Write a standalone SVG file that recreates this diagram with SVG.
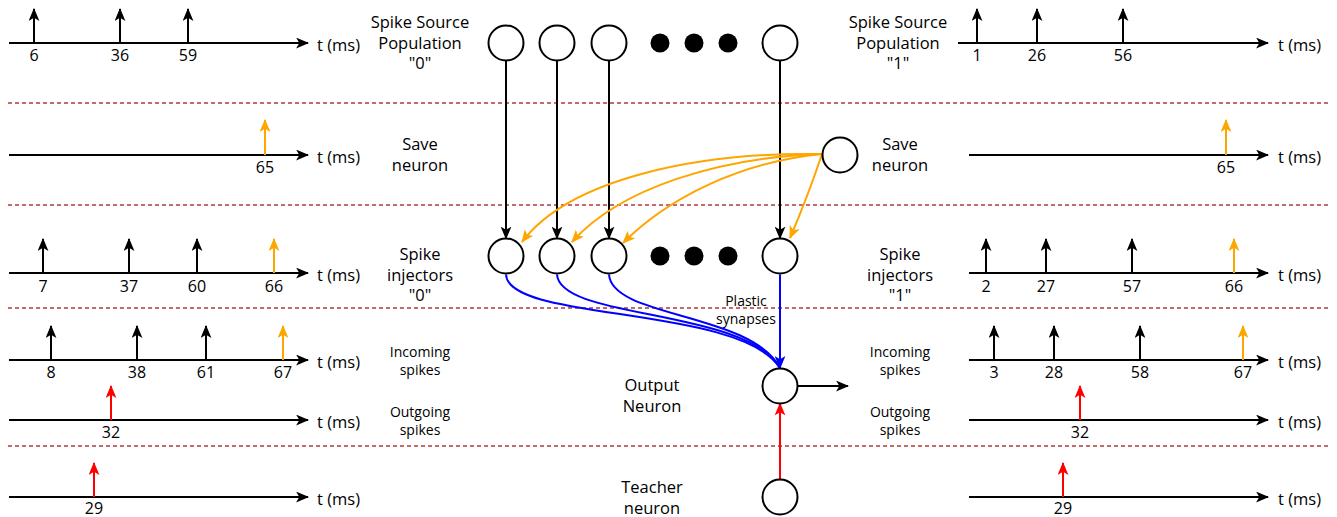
<svg xmlns="http://www.w3.org/2000/svg" width="1337" height="517" viewBox="0 0 1337 517">
<style>
text{font-family:"Open Sans","Noto Sans",sans-serif;fill:#000;text-anchor:middle}
.lbl{font-size:16.5px}
.num{font-size:16px}
.sm{font-size:14px}
.tms{font-size:16.5px;text-anchor:start}
.ax{stroke:#000;stroke-width:2;fill:none;marker-end:url(#ah)}
.sk{stroke:#000;stroke-width:2;fill:none;marker-end:url(#ah)}
.so{stroke:#FFA500;stroke-width:2;fill:none;marker-end:url(#aho)}
.sr{stroke:#FF0000;stroke-width:2;fill:none;marker-end:url(#ahr)}
.sep{stroke:#b33a3a;stroke-width:1.5;stroke-dasharray:4 3}
.nd{fill:#fff;stroke:#000;stroke-width:2}
.dot{fill:#000}
.cb{stroke:#000;stroke-width:2;fill:none;marker-end:url(#ah)}
.co{stroke:#FFA500;stroke-width:2;fill:none;marker-end:url(#aho)}
.cbl{stroke:#0000FF;stroke-width:2;fill:none}
</style>
<defs>
<marker id="ah" markerUnits="userSpaceOnUse" viewBox="0 0 12 10" refX="11" refY="5" markerWidth="13" markerHeight="11" orient="auto"><path d="M0,0 L12,5 L0,10 L3,5 Z" fill="#000"/></marker>
<marker id="aho" markerUnits="userSpaceOnUse" viewBox="0 0 12 10" refX="11" refY="5" markerWidth="13" markerHeight="11" orient="auto"><path d="M0,0 L12,5 L0,10 L3,5 Z" fill="#FFA500"/></marker>
<marker id="ahr" markerUnits="userSpaceOnUse" viewBox="0 0 12 10" refX="11" refY="5" markerWidth="13" markerHeight="11" orient="auto"><path d="M0,0 L12,5 L0,10 L3,5 Z" fill="#FF0000"/></marker>
<marker id="ahb" markerUnits="userSpaceOnUse" viewBox="0 0 12 10" refX="11" refY="5" markerWidth="13" markerHeight="11" orient="auto"><path d="M0,0 L12,5 L0,10 L3,5 Z" fill="#0000FF"/></marker>
</defs>

<g id="separators">
<line class="sep" x1="8" y1="103" x2="1328" y2="103"/>
<line class="sep" x1="8" y1="205" x2="1328" y2="205"/>
<line class="sep" x1="8" y1="308" x2="1328" y2="308"/>
<line class="sep" x1="8" y1="446" x2="1328" y2="446"/>
</g>

<g id="timelines-left">
<line class="ax" x1="9" y1="43" x2="308" y2="43"/>
<line class="sk" x1="34" y1="43" x2="34" y2="9"/>
<line class="sk" x1="120" y1="43" x2="120" y2="9"/>
<line class="sk" x1="188" y1="43" x2="188" y2="9"/>
<text class="num" x="34" y="61">6</text>
<text class="num" x="120" y="61">36</text>
<text class="num" x="188" y="61">59</text>
<text class="tms" x="317" y="51">t (ms)</text>

<line class="ax" x1="9" y1="155" x2="308" y2="155"/>
<line class="so" x1="265" y1="155" x2="265" y2="120"/>
<text class="num" x="265" y="173">65</text>
<text class="tms" x="317" y="163">t (ms)</text>

<line class="ax" x1="9" y1="273" x2="308" y2="273"/>
<line class="sk" x1="43" y1="273" x2="43" y2="239"/>
<line class="sk" x1="129" y1="273" x2="129" y2="239"/>
<line class="sk" x1="197" y1="273" x2="197" y2="239"/>
<line class="so" x1="274" y1="273" x2="274" y2="239"/>
<text class="num" x="43" y="292">7</text>
<text class="num" x="129" y="292">37</text>
<text class="num" x="197" y="292">60</text>
<text class="num" x="274" y="292">66</text>
<text class="tms" x="317" y="281">t (ms)</text>

<line class="ax" x1="9" y1="360" x2="308" y2="360"/>
<line class="sk" x1="51" y1="360" x2="51" y2="326"/>
<line class="sk" x1="137" y1="360" x2="137" y2="326"/>
<line class="sk" x1="206" y1="360" x2="206" y2="326"/>
<line class="so" x1="283" y1="360" x2="283" y2="326"/>
<text class="num" x="51" y="378">8</text>
<text class="num" x="137" y="378">38</text>
<text class="num" x="206" y="378">61</text>
<text class="num" x="283" y="378">67</text>
<text class="tms" x="317" y="368">t (ms)</text>

<line class="ax" x1="9" y1="420" x2="308" y2="420"/>
<line class="sr" x1="111" y1="420" x2="111" y2="386"/>
<text class="num" x="111" y="438">32</text>
<text class="tms" x="317" y="428">t (ms)</text>

<line class="ax" x1="9" y1="497" x2="308" y2="497"/>
<line class="sr" x1="94" y1="497" x2="94" y2="463"/>
<text class="num" x="94" y="514">29</text>
<text class="tms" x="317" y="505">t (ms)</text>
</g>

<g id="timelines-right">
<line class="ax" x1="958" y1="43" x2="1268" y2="43"/>
<line class="sk" x1="977" y1="43" x2="977" y2="9"/>
<line class="sk" x1="1037" y1="43" x2="1037" y2="9"/>
<line class="sk" x1="1123" y1="43" x2="1123" y2="9"/>
<text class="num" x="977" y="61">1</text>
<text class="num" x="1037" y="61">26</text>
<text class="num" x="1123" y="61">56</text>
<text class="tms" x="1278" y="51">t (ms)</text>

<line class="ax" x1="969" y1="155" x2="1268" y2="155"/>
<line class="so" x1="1226" y1="155" x2="1226" y2="120"/>
<text class="num" x="1226" y="173">65</text>
<text class="tms" x="1278" y="163">t (ms)</text>

<line class="ax" x1="969" y1="273" x2="1268" y2="273"/>
<line class="sk" x1="986" y1="273" x2="986" y2="239"/>
<line class="sk" x1="1046" y1="273" x2="1046" y2="239"/>
<line class="sk" x1="1132" y1="273" x2="1132" y2="239"/>
<line class="so" x1="1234" y1="273" x2="1234" y2="239"/>
<text class="num" x="986" y="292">2</text>
<text class="num" x="1046" y="292">27</text>
<text class="num" x="1132" y="292">57</text>
<text class="num" x="1234" y="292">66</text>
<text class="tms" x="1278" y="281">t (ms)</text>

<line class="ax" x1="969" y1="360" x2="1268" y2="360"/>
<line class="sk" x1="994" y1="360" x2="994" y2="326"/>
<line class="sk" x1="1054" y1="360" x2="1054" y2="326"/>
<line class="sk" x1="1140" y1="360" x2="1140" y2="326"/>
<line class="so" x1="1243" y1="360" x2="1243" y2="326"/>
<text class="num" x="994" y="378">3</text>
<text class="num" x="1054" y="378">28</text>
<text class="num" x="1140" y="378">58</text>
<text class="num" x="1243" y="378">67</text>
<text class="tms" x="1278" y="368">t (ms)</text>

<line class="ax" x1="969" y1="420" x2="1268" y2="420"/>
<line class="sr" x1="1080" y1="420" x2="1080" y2="386"/>
<text class="num" x="1080" y="438">32</text>
<text class="tms" x="1278" y="428">t (ms)</text>

<line class="ax" x1="969" y1="497" x2="1268" y2="497"/>
<line class="sr" x1="1063" y1="497" x2="1063" y2="463"/>
<text class="num" x="1063" y="514">29</text>
<text class="tms" x="1278" y="505">t (ms)</text>
</g>

<g id="labels">
<text class="lbl" x="420" y="28">Spike Source</text>
<text class="lbl" x="420" y="49">Population</text>
<text class="lbl" x="420" y="69">"0"</text>
<text class="lbl" x="898" y="28">Spike Source</text>
<text class="lbl" x="898" y="49">Population</text>
<text class="lbl" x="898" y="69">"1"</text>
<text class="lbl" x="420" y="150">Save</text>
<text class="lbl" x="420" y="171">neuron</text>
<text class="lbl" x="900" y="150">Save</text>
<text class="lbl" x="900" y="171">neuron</text>
<text class="lbl" x="420" y="260">Spike</text>
<text class="lbl" x="420" y="281">injectors</text>
<text class="lbl" x="420" y="301">"0"</text>
<text class="lbl" x="900" y="260">Spike</text>
<text class="lbl" x="900" y="281">injectors</text>
<text class="lbl" x="900" y="301">"1"</text>
<text class="sm" x="420" y="357">Incoming</text>
<text class="sm" x="420" y="375">spikes</text>
<text class="sm" x="420" y="417">Outgoing</text>
<text class="sm" x="420" y="435">spikes</text>
<text class="sm" x="900" y="357">Incoming</text>
<text class="sm" x="900" y="375">spikes</text>
<text class="sm" x="900" y="417">Outgoing</text>
<text class="sm" x="900" y="435">spikes</text>
<text class="sm" x="746" y="306">Plastic</text>
<text class="sm" x="746" y="324">synapses</text>
<text class="lbl" x="652" y="391">Output</text>
<text class="lbl" x="652" y="412">Neuron</text>
<text class="lbl" x="652" y="493">Teacher</text>
<text class="lbl" x="652" y="514">neuron</text>
</g>

<g id="connectors">
<line class="cb" x1="506" y1="60.5" x2="506" y2="238.5"/>
<line class="cb" x1="557" y1="60.5" x2="557" y2="238.5"/>
<line class="cb" x1="609" y1="60.5" x2="609" y2="238.5"/>
<line class="cb" x1="780" y1="60.5" x2="780" y2="238.5"/>
<path class="co" d="M822,154 C700,152 570,178 522,242"/>
<path class="co" d="M822,154 C720,157 620,188 572,242"/>
<path class="co" d="M822,154 C740,162 668,198 623,243"/>
<path class="co" d="M822,154 Q808,196 790,238"/>
<path class="cbl" d="M506,274.5 C508,322 740,305 780,368"/>
<path class="cbl" d="M557,274.5 C560,320 745,308 780,368"/>
<path class="cbl" d="M609,274.5 C612,318 750,312 780,368"/>
<line class="cbl" x1="780" y1="274.5" x2="780" y2="368" style="marker-end:url(#ahb)"/>
<line class="cb" x1="797.5" y1="386" x2="848" y2="386"/>
<line class="sr" x1="780" y1="479.5" x2="780" y2="403.5"/>
</g>

<g id="node-source-0"><circle class="nd" cx="506" cy="43" r="17.5"/></g>
<g id="node-source-1"><circle class="nd" cx="557" cy="43" r="17.5"/></g>
<g id="node-source-2"><circle class="nd" cx="609" cy="43" r="17.5"/></g>
<g id="node-source-dots"><circle class="dot" cx="660" cy="43" r="9.5"/><circle class="dot" cx="694" cy="43" r="9.5"/><circle class="dot" cx="728" cy="43" r="9.5"/></g>
<g id="node-source-n"><circle class="nd" cx="780" cy="43" r="17.5"/></g>
<g id="node-save"><circle class="nd" cx="840" cy="155" r="17.5"/></g>
<g id="node-inj-0"><circle class="nd" cx="506" cy="256" r="17.5"/></g>
<g id="node-inj-1"><circle class="nd" cx="557" cy="256" r="17.5"/></g>
<g id="node-inj-2"><circle class="nd" cx="609" cy="256" r="17.5"/></g>
<g id="node-inj-dots"><circle class="dot" cx="660" cy="256" r="9.5"/><circle class="dot" cx="694" cy="256" r="9.5"/><circle class="dot" cx="728" cy="256" r="9.5"/></g>
<g id="node-inj-n"><circle class="nd" cx="780" cy="256" r="17.5"/></g>
<g id="node-output"><circle class="nd" cx="780" cy="386" r="17.5"/></g>
<g id="node-teacher"><circle class="nd" cx="780" cy="497" r="17.5"/></g>
</svg>
